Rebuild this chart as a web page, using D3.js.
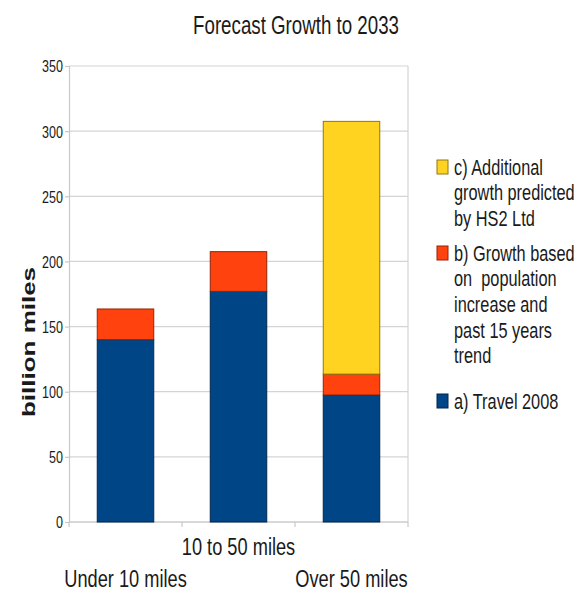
<!DOCTYPE html>
<html>
<head>
<meta charset="utf-8">
<script src="https://cdn.jsdelivr.net/npm/d3@7"></script>
<style>
  body { margin: 0; background: #fff; }
  text { font-family: "Liberation Sans", Arial, sans-serif; fill: #1a1a1a; white-space: pre; }
</style>
</head>
<body>
<script>
// data (billion miles)
var categories = ["Under 10 miles", "10 to 50 miles", "Over 50 miles"];
var travel2008 = [140, 177, 97.5];
var growthTrend = [23.5, 30.5, 16];
var growthHS2 = [0, 0, 194];
var yTicks = [0, 50, 100, 150, 200, 250, 300, 350];
var seriesKeys = ["a", "b", "c"];
var seriesColors = ["#004586", "#ff420e", "#ffd320"];
var legendLabels = [
    ["c) Additional", "growth predicted", "by HS2 Ltd"],
    ["b) Growth based", "on  population", "increase and", "past 15 years", "trend"],
    ["a) Travel 2008"]
];

var totalWidth = 575, totalHeight = 592;
var margin = {top: 66, right: 167, bottom: 70, left: 69};
var width = totalWidth - margin.left - margin.right;
var height = totalHeight - margin.top - margin.bottom;
var sx = 0.76; // the original text is horizontally squeezed

var rows = categories.map(function(c, i){
    return {cat: c, a: travel2008[i], b: growthTrend[i], c: growthHS2[i]};
});

var svg = d3.select("body").append("svg")
    .attr("width", totalWidth)
    .attr("height", totalHeight);

var g = svg.append("g")
    .attr("transform", "translate(" + margin.left + "," + margin.top + ")");

var xScale = d3.scaleBand().domain(categories).range([0, width]).padding(0);
var yScale = d3.scaleLinear().domain([0, 350]).range([height, 0]);
var color = d3.scaleOrdinal().domain(seriesKeys).range(seriesColors);

// grid
g.selectAll(".grid").data(yTicks).enter()
    .append("line")
    .attr("x1", 0).attr("x2", width)
    .attr("y1", function(d){ return yScale(d); })
    .attr("y2", function(d){ return yScale(d); })
    .attr("stroke", "#d4d4d4").attr("stroke-width", 1.2);

g.append("line")
    .attr("x1", width).attr("x2", width)
    .attr("y1", 0).attr("y2", height)
    .attr("stroke", "#d4d4d4").attr("stroke-width", 1.2);

// y axis
var yAxisGroup = g.append("g").attr("class", "yAxis")
    .call(d3.axisLeft(yScale).tickValues(yTicks).tickSize(4).tickFormat(d3.format("d")));
yAxisGroup.select(".domain").attr("stroke", "#c8c8c8").attr("stroke-width", 1.2);
yAxisGroup.selectAll(".tick line").attr("stroke", "#c8c8c8").attr("stroke-width", 1.2);
yAxisGroup.selectAll(".tick text")
    .attr("x", null).attr("dy", "0.36em")
    .attr("transform", "translate(-6,0) scale(" + sx + ",1)")
    .attr("font-size", 16.5).attr("fill", "#1a1a1a")
    .style("font-family", "Liberation Sans, Arial, sans-serif");

// x axis line and ticks at category boundaries
var xBounds = categories.map(function(c){ return xScale(c); }).concat([width]);
g.append("line")
    .attr("x1", 0).attr("x2", width)
    .attr("y1", height).attr("y2", height)
    .attr("stroke", "#c8c8c8").attr("stroke-width", 1.2);
g.selectAll(".xtick").data(xBounds).enter()
    .append("line")
    .attr("x1", function(d){ return d; }).attr("x2", function(d){ return d; })
    .attr("y1", height).attr("y2", height + 5)
    .attr("stroke", "#c8c8c8").attr("stroke-width", 1.2);

// stacked bars
var stacked = d3.stack().keys(seriesKeys)(rows);
var barW = xScale.bandwidth() * 0.5;

g.selectAll(".series").data(stacked).enter()
    .append("g")
    .attr("fill", function(d){ return color(d.key); })
    .attr("stroke", function(d){ return d3.color(color(d.key)).darker(1.6); })
    .selectAll("rect")
    .data(function(d){ return d.filter(function(p){ return p[1] > p[0]; }); })
    .enter()
    .append("rect")
    .attr("x", function(p){ return xScale(p.data.cat) + xScale.bandwidth() * 0.25; })
    .attr("y", function(p){ return yScale(p[1]); })
    .attr("width", barW)
    .attr("height", function(p){ return yScale(p[0]) - yScale(p[1]); })
    .attr("stroke-width", 1);

// category labels, middle one raised
g.selectAll(".catLabel").data(categories).enter()
    .append("text")
    .attr("text-anchor", "middle")
    .attr("font-size", 24)
    .attr("transform", function(d, i){
        var cx = xScale(d) + xScale.bandwidth() / 2;
        var cy = height + (i % 2 === 1 ? 33 : 65);
        return "translate(" + cx + "," + cy + ") scale(" + sx + ",1)";
    })
    .text(function(d){ return d; });

// title
svg.append("text")
    .attr("text-anchor", "middle")
    .attr("font-size", 26)
    .attr("transform", "translate(296,34) scale(0.72,1)")
    .text("Forecast Growth to 2033");

// y label
svg.append("text")
    .attr("text-anchor", "middle")
    .attr("font-size", 26)
    .attr("font-weight", "bold")
    .attr("transform", "translate(35,342) rotate(-90) scale(1,0.72)")
    .text("billion miles");

// legend
var legend = svg.append("g").attr("transform", "translate(437,0)");
var legendKeys = ["c", "b", "a"];
var legendTops = [160, 246, 394];
legendKeys.forEach(function(k, i){
    var item = legend.append("g").attr("transform", "translate(0," + legendTops[i] + ")");
    item.append("rect")
        .attr("width", 11).attr("height", 14)
        .attr("fill", color(k))
        .attr("stroke", d3.color(color(k)).darker(1.6))
        .attr("stroke-width", 1);
    legendLabels[i].forEach(function(line, j){
        item.append("text")
            .attr("font-size", 21.5)
            .attr("transform", "translate(17," + (14.5 + j * 25.7) + ") scale(" + sx + ",1)")
            .text(line);
    });
});
</script>
</body>
</html>
